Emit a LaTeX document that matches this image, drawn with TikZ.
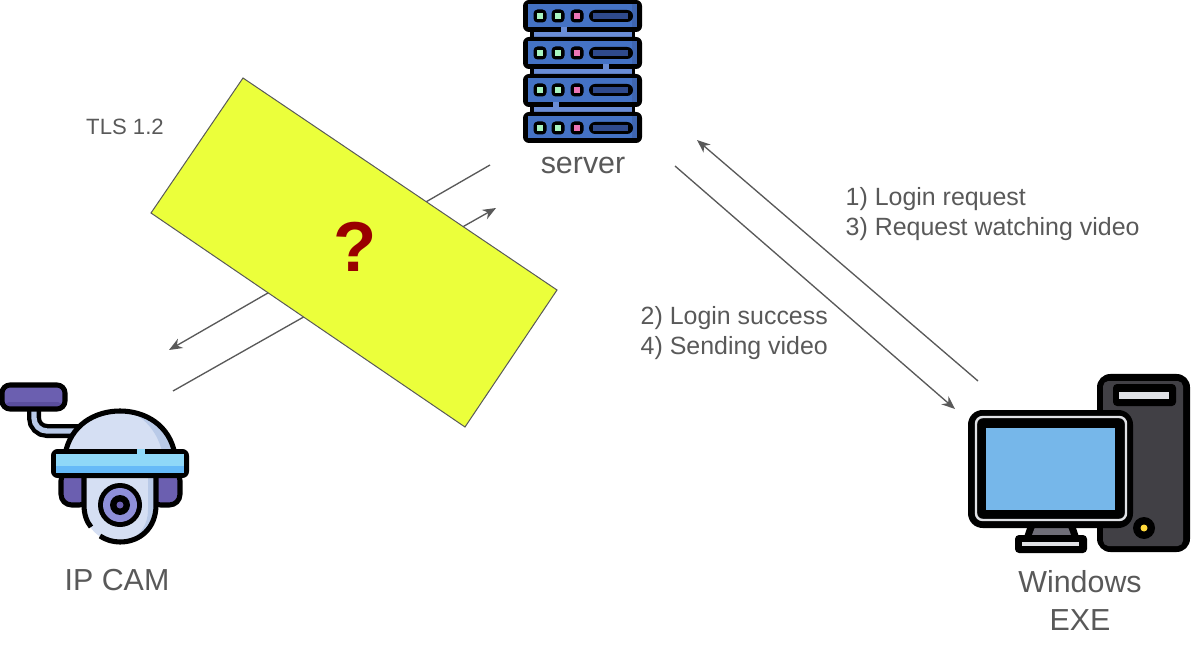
\documentclass[tikz,border=0pt]{standalone}
\usepackage{fontspec}
\setmainfont{Liberation Sans}
\usetikzlibrary{arrows.meta}
\definecolor{txtgray}{HTML}{595959}
\definecolor{linegray}{HTML}{595959}
\definecolor{rackblue}{HTML}{4472C4}
\definecolor{rackshade}{HTML}{3F66B0}
\definecolor{rackband}{HTML}{6A8DD6}
\definecolor{rackbar}{HTML}{2F4A8C}
\definecolor{ledgreen}{HTML}{A8F5C0}
\definecolor{ledpink}{HTML}{EC74B4}
\definecolor{campurple}{HTML}{6B5FB0}
\definecolor{camdeep}{HTML}{5A4E9E}
\definecolor{camlight}{HTML}{D5DFF3}
\definecolor{camshade}{HTML}{B9CAE8}
\definecolor{camband}{HTML}{8FD8F8}
\definecolor{cambandlow}{HTML}{66BAF8}
\definecolor{camlens}{HTML}{8E8FD8}
\definecolor{pcdark}{HTML}{414045}
\definecolor{pcpale}{HTML}{E0E1E5}
\definecolor{pcscreen}{HTML}{76B7EA}
\definecolor{pcstand}{HTML}{6F6E78}
\definecolor{pcled}{HTML}{FFD83B}
\definecolor{patchyellow}{HTML}{EBFF3B}
\definecolor{markred}{HTML}{990000}
\tikzset{
  flow/.style={draw=linegray,line width=1pt,-{Stealth[length=10pt,width=8pt]}},
  caption/.style={text=txtgray,font=\fontsize{22.8}{25}\selectfont},
  steps/.style={text=txtgray,font=\fontsize{18.7}{22.5}\selectfont,align=left,anchor=west},
  ink/.style={draw=black,line width=3.8pt,line join=round},
}
% one server drawer, #1 = top edge, #2 = height
\newcommand{\rackunit}[2]{
  \fill[black,rounded corners=4.5pt] (523,#1) rectangle (642,#1+#2);
  \fill[rackblue] (528,#1+4) rectangle (637,#1+#2-5);
  \fill[rackshade] (632,#1+4) rectangle (637,#1+#2-5);
  \foreach \ledx/\ledc in {540/ledgreen,558/ledgreen,577/ledpink}{
    \fill[black,rounded corners=3pt] (\ledx-6.5,#1+9.5) rectangle (\ledx+6.5,#1+22.5);
    \fill[\ledc] (\ledx-2.7,#1+13.3) rectangle (\ledx+2.7,#1+18.7);
  }
  \fill[black,rounded corners=4.5pt] (589,#1+10) rectangle (633,#1+22);
  \fill[rackbar] (593,#1+13) rectangle (628,#1+19);
}
\begin{document}
\begin{tikzpicture}[x=0.75pt,y=0.75pt,yscale=-1,xscale=1]
\useasboundingbox (0,0) rectangle (1194,655);

%Straight Lines
\coordinate (srvOutL) at (490,165);
\coordinate (camIn) at (169,350);
\coordinate (camOut) at (173,391);
\coordinate (srvInL) at (496,208);
\coordinate (pcOut) at (978,381);
\coordinate (srvInR) at (697,140);
\coordinate (srvOutR) at (675,166);
\coordinate (pcIn) at (955,409);
\draw[flow] (srvOutL) -- (camIn);
\draw[flow] (camOut) -- (srvInL);
\draw[flow] (pcOut) -- (srvInR);
\draw[flow] (srvOutR) -- (pcIn);

%Shape: Patch
\draw[draw=linegray,line width=0.75pt,fill=patchyellow] (243,78) -- (557,290) -- (465,427) -- (151,213) -- cycle;

%Shape: Server
\fill[black] (530,30) rectangle (635,112);
\fill[rackband] (534,32) rectangle (632,37);
\fill[rackband] (534,69) rectangle (632,74);
\fill[rackband] (534,107) rectangle (632,112);
\rackunit{0}{32}
\rackunit{37}{32}
\rackunit{74}{33}
\rackunit{112}{31}
\fill[rackband] (561,27) rectangle (567,32);
\fill[rackband] (603,64) rectangle (609,69);
\fill[rackband] (553,102) rectangle (559,107);

%Shape: Camera arm
\draw[black,line width=10.5pt] (34,408) -- (34,418) arc[start angle=180,end angle=90,radius=13] -- (85,431);
\draw[camshade,line width=4pt] (34,408) -- (34,418) arc[start angle=180,end angle=90,radius=13] -- (85,431);
%Shape: Camera mount
\fill[campurple,rounded corners=6pt] (2,385) rectangle (65,409);
\fill[camdeep,rounded corners=4pt] (4,402) rectangle (63,409);
\draw[ink,rounded corners=6pt] (2,385) rectangle (65,409);
%Shape: Camera ears
\filldraw[ink,fill=campurple,rounded corners=8pt] (61,470) rectangle (90,505);
\filldraw[ink,fill=campurple,rounded corners=8pt] (150,470) rectangle (180,505);
%Shape: Camera dome
\fill[camlight] (65,455) .. controls (70,425) and (95,411) .. (120,411) .. controls (145,411) and (170,425) .. (175,455) -- cycle;
\fill[camshade] (130,412) .. controls (145,411) and (170,425) .. (175,455) -- (163,455) .. controls (158,432) and (145,418) .. (130,412) -- cycle;
\draw[ink] (65,455) .. controls (70,425) and (95,411) .. (120,411) .. controls (145,411) and (170,425) .. (175,455);
%Shape: Camera head
\fill[camlight] (84,476) -- (84,505) .. controls (84,528) and (100,542) .. (120,542) .. controls (140,542) and (156,528) .. (156,505) -- (156,476) -- cycle;
\fill[camshade] (148,476) -- (148,510) .. controls (148,525) and (140,535) .. (130,540) .. controls (145,538) and (156,525) .. (156,505) -- (156,476) -- cycle;
\draw[ink] (84,476) -- (84,505) .. controls (84,515) and (87,522) .. (91,527);
\draw[ink] (100,536) .. controls (106,540) and (113,542) .. (120,542) .. controls (140,542) and (156,528) .. (156,505) -- (156,476);
%Shape: Camera band
\fill[black,rounded corners=5pt] (51,449) rectangle (189,478);
\fill[camband] (56,454) rectangle (184,473);
\fill[cambandlow] (56,466) rectangle (184,473);
\fill[camband] (137,449) rectangle (145,454);
%Shape: Camera lens
\fill[black] (120,505) circle (22);
\fill[camlens] (120,505) circle (17);
\fill[black] (120,505) circle (10);
\fill[campurple] (120,505) circle (3.5);

%Shape: PC tower
\fill[black,rounded corners=10pt] (1097,374) rectangle (1190,552);
\fill[pcdark,rounded corners=4pt] (1103,381) rectangle (1183,546);
\fill[black,rounded corners=3pt] (1113,384) rectangle (1176,406);
\fill[pcpale] (1119,392) rectangle (1169,399);
\fill[black] (1144,528) circle (11);
\fill[pcled] (1144,528) circle (3.5);
%Shape: PC stand
\fill[black] (1028,525) -- (1075,525) -- (1079,537) -- (1024,537) -- cycle;
\fill[pcstand] (1035,527) -- (1068,527) -- (1071,535) -- (1032,535) -- cycle;
\fill[black,rounded corners=3pt] (1015,535) rectangle (1087,553);
\fill[pcpale] (1022,542) rectangle (1079,546);
%Shape: PC monitor
\fill[black,rounded corners=11pt] (968,410) rectangle (1133,528);
\draw[pcpale,line width=1.8pt,rounded corners=5pt] (976,417) rectangle (1126,520);
\fill[pcscreen] (986,428) rectangle (1115,510);

% Text Node
\draw (125,127) node (tlsLabel) [text=txtgray,font=\fontsize{16.6}{18}\selectfont] {TLS 1.2};
% Text Node
\draw (355,247) node (markLabel) [text=markred,font=\fontsize{53}{55}\selectfont\bfseries] {?};
% Text Node
\draw (583,165) node (serverLabel) [caption] {server};
% Text Node
\draw (117,580) node (camLabel) [caption] {IP CAM};
% Text Node
\draw (1080,600) node (pcLabel) [caption,align=center,font=\fontsize{22.8}{28.5}\selectfont] {Windows\\EXE};
% Text Node
\draw (841,214) node (reqLabel) [steps] {1) Login request\\3) Request watching video};
% Text Node
\draw (636,333.5) node (respLabel) [steps] {2) Login success\\4) Sending video};
\end{tikzpicture}
\end{document}
